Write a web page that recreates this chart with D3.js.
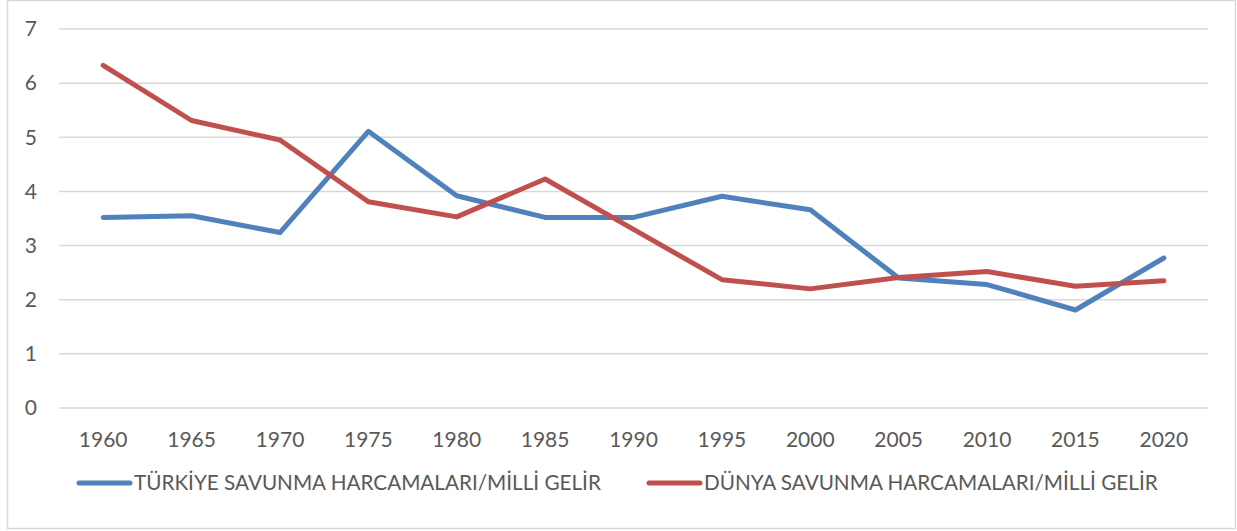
<!DOCTYPE html>
<html>
<head>
<meta charset="utf-8">
<script src="https://cdn.jsdelivr.net/npm/d3@7"></script>
<style>
  body { margin: 0; background: #fff; }
  text { font-family: Lato, "Open Sans", sans-serif; fill: #595959; }
</style>
</head>
<body>
<div id="chart"></div>
<script>
// Chart data
var years = ["1960", "1965", "1970", "1975", "1980", "1985", "1990", "1995", "2000", "2005", "2010", "2015", "2020"];
var turkeyValues = [3.52, 3.55, 3.24, 5.11, 3.92, 3.52, 3.52, 3.91, 3.66, 2.40, 2.28, 1.81, 2.77];
var worldValues = [6.33, 5.31, 4.95, 3.81, 3.53, 4.23, 3.30, 2.37, 2.20, 2.41, 2.52, 2.25, 2.35];
var seriesNames = ["TÜRKİYE SAVUNMA HARCAMALARI/MİLLİ GELİR", "DÜNYA SAVUNMA HARCAMALARI/MİLLİ GELİR"];
var yTicks = [0, 1, 2, 3, 4, 5, 6, 7];

// Chart Params
var svgWidth = 1237;
var svgHeight = 531;

var margin = { top: 29, right: 29, bottom: 123, left: 59 };
var width = svgWidth - margin.left - margin.right;
var height = svgHeight - margin.top - margin.bottom;

var svg = d3.select("#chart")
    .append("svg")
    .attr("width", svgWidth)
    .attr("height", svgHeight);

// outer frame
svg.append("rect")
    .attr("x", 7.5)
    .attr("y", 0.5)
    .attr("width", 1228)
    .attr("height", 528)
    .attr("fill", "#fff")
    .attr("stroke", "#d9d9d9")
    .attr("stroke-width", 1.5);

var chartGroup = svg.append("g")
    .attr("transform", `translate(${margin.left}, ${margin.top})`);

var x = d3.scaleBand()
    .domain(years)
    .range([0, width]);

var y = d3.scaleLinear()
    .domain([0, 7])
    .range([height, 0]);

// gridlines
chartGroup.selectAll(".grid")
    .data(yTicks)
    .enter()
    .append("line")
    .attr("x1", 0)
    .attr("x2", width)
    .attr("y1", d => y(d))
    .attr("y2", d => y(d))
    .attr("stroke", "#d9d9d9")
    .attr("stroke-width", 1.5);

// y axis labels
var leftAxis = d3.axisLeft(y).tickValues(yTicks).tickFormat(d3.format("d")).tickSize(0).tickPadding(22);
var yAxisG = chartGroup.append("g").call(leftAxis);
yAxisG.select(".domain").remove();
yAxisG.selectAll("text")
    .attr("font-size", "21px")
    .attr("font-family", "Lato, sans-serif")
    .attr("fill", "#595959");

// x axis labels
var bottomAxis = d3.axisBottom(x).tickSize(0).tickPadding(24);
var xAxisG = chartGroup.append("g")
    .attr("transform", `translate(0, ${height})`)
    .call(bottomAxis);
xAxisG.select(".domain").remove();
xAxisG.selectAll("text")
    .attr("font-size", "21px")
    .attr("font-family", "Lato, sans-serif")
    .attr("fill", "#595959");

var line = d3.line()
    .x((d, i) => x(years[i]) + x.bandwidth() / 2)
    .y(d => y(d));

var colors = ["#4f81bd", "#c0504d"];
var allSeries = [turkeyValues, worldValues];

allSeries.forEach(function(vals, i) {
    chartGroup.append("path")
        .datum(vals)
        .attr("d", line)
        .attr("fill", "none")
        .attr("stroke", colors[i])
        .attr("stroke-width", 5)
        .attr("stroke-linejoin", "round")
        .attr("stroke-linecap", "round");
});

// legend
var legendX = [77, 647];
var legendY = 483;
seriesNames.forEach(function(name, i) {
    svg.append("line")
        .attr("x1", legendX[i] + 2)
        .attr("x2", legendX[i] + 53)
        .attr("y1", legendY)
        .attr("y2", legendY)
        .attr("stroke", colors[i])
        .attr("stroke-width", 5)
        .attr("stroke-linecap", "round");
    svg.append("text")
        .attr("x", legendX[i] + 57)
        .attr("y", legendY)
        .attr("dy", "0.35em")
        .attr("font-size", "20.7px")
        .text(name);
});
</script>
</body>
</html>
